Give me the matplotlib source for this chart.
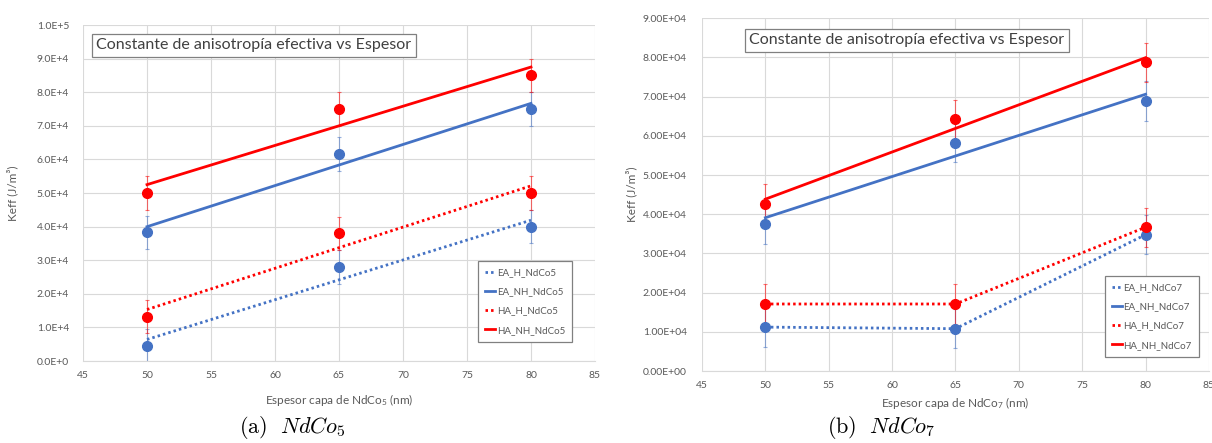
import numpy as np
import matplotlib.pyplot as plt
from matplotlib.ticker import FuncFormatter, MultipleLocator

plt.rcParams['font.family'] = ['Lato', 'DejaVu Sans']
plt.rcParams['mathtext.fontset'] = 'custom'
plt.rcParams['mathtext.rm'] = 'Lato'
plt.rcParams['mathtext.it'] = 'Lato:italic'

# thickness of the NdCo layer (nm)
espesor = [50, 65, 80]

# NdCo5 panel (J/m3)
ea_h_5 = [4.5e3, 2.8e4, 4.0e4]
ea_nh_5 = [3.83e4, 6.17e4, 7.5e4]
ha_h_5 = [1.32e4, 3.8e4, 5.0e4]
ha_nh_5 = [5.0e4, 7.5e4, 8.5e4]
err_5 = [5e3, 5e3, 5e3]

# NdCo7 panel (J/m3)
ea_h_7 = [1.12e4, 1.08e4, 3.48e4]
ea_nh_7 = [3.74e4, 5.83e4, 6.89e4]
ha_h_7 = [1.71e4, 1.71e4, 3.67e4]
ha_nh_7 = [4.27e4, 6.42e4, 7.88e4]
err_7 = [5e3, 5e3, 5e3]

titulo = 'Constante de anisotropía efectiva vs Espesor'

BLUE = '#4472C4'
RED = '#FF0000'
GRAY = '#595959'
DOTS = (0, (0.9, 1.1))


def serie(ax, x, y, err, color, ls, label, fit):
    ax.errorbar(x, y, yerr=err, fmt='none', ecolor=color, elinewidth=0.8,
                capsize=1.5, capthick=0.8, alpha=0.55, zorder=2)
    ax.plot(x, y, 'o', color=color, ms=7, zorder=4)
    x = np.array(x, dtype=float)
    if fit:
        k, b = np.polyfit(x, y, 1)
        xx = np.array([x[0], x[-1]])
        ax.plot(xx, k * xx + b, color=color, ls=ls, lw=2.0, label=label, zorder=3)
    else:
        ax.plot(x, y, color=color, ls=ls, lw=2.0, label=label, zorder=3)


def estilo(ax, ymax, fmt, pad_y):
    ax.set_xlim(45, 85)
    ax.set_ylim(0, ymax)
    ax.xaxis.set_major_locator(MultipleLocator(5))
    ax.yaxis.set_major_locator(MultipleLocator(1e4))
    ax.yaxis.set_major_formatter(FuncFormatter(fmt))
    ax.grid(True, color='#D9D9D9', lw=0.8)
    ax.set_axisbelow(True)
    for s in ['top', 'right', 'left']:
        ax.spines[s].set_visible(False)
    ax.spines['bottom'].set_color('#D9D9D9')
    ax.tick_params(length=0, labelsize=7.5, labelcolor=GRAY)
    ax.tick_params(axis='y', pad=pad_y)
    ax.tick_params(axis='x', pad=7)


def fmt5(v, pos):
    if v <= 0:
        return '0.0E+0'
    e = int(np.floor(np.log10(v) + 1e-9))
    return f'{v / 10**e:.1f}E+{e}'


def fmt7(v, pos):
    return f'{max(v, 0):.2E}'


fig = plt.figure(figsize=(12.12, 4.43), dpi=100)
ax1 = fig.add_axes([0.0685, 0.185, 0.4224, 0.7585])
ax2 = fig.add_axes([0.5792, 0.1625, 0.4183, 0.7962])

# (a) NdCo5 - all linear trendlines
serie(ax1, espesor, ea_h_5, err_5, BLUE, DOTS, 'EA_H_NdCo5', True)
serie(ax1, espesor, ea_nh_5, err_5, BLUE, '-', 'EA_NH_NdCo5', True)
serie(ax1, espesor, ha_h_5, err_5, RED, DOTS, 'HA_H_NdCo5', True)
serie(ax1, espesor, ha_nh_5, err_5, RED, '-', 'HA_NH_NdCo5', True)
estilo(ax1, 1e5, fmt5, 10)
ax1.set_xlabel(r'Espesor capa de NdCo$_5$ (nm)', fontsize=8.5, color=GRAY)
ax1.set_ylabel('Keff (J/m³)', fontsize=8.5, color=GRAY)
ax1.xaxis.set_label_coords(0.5, -0.092)
ax1.yaxis.set_label_coords(-0.127, 0.5)

# (b) NdCo7 - H series joined, NH series linear trendlines
serie(ax2, espesor, ea_h_7, err_7, BLUE, DOTS, 'EA_H_NdCo7', False)
serie(ax2, espesor, ea_nh_7, err_7, BLUE, '-', 'EA_NH_NdCo7', True)
serie(ax2, espesor, ha_h_7, err_7, RED, DOTS, 'HA_H_NdCo7', False)
serie(ax2, espesor, ha_nh_7, err_7, RED, '-', 'HA_NH_NdCo7', True)
estilo(ax2, 9e4, fmt7, 11)
ax2.set_xlabel(r'Espesor capa de NdCo$_7$ (nm)', fontsize=8.5, color=GRAY)
ax2.set_ylabel('Keff (J/m³)', fontsize=8.5, color=GRAY)
ax2.xaxis.set_label_coords(0.5, -0.068)
ax2.yaxis.set_label_coords(-0.128, 0.5)

for ax, lx, ly, bb in [(ax1, 0.334, 0.940, (0.965, 0.042)),
                       (ax2, 0.404, 0.938, (0.990, 0.026))]:
    ax.text(lx, ly, titulo, transform=ax.transAxes, ha='center', va='center',
            fontsize=11.5, color='#404040',
            bbox=dict(boxstyle='square,pad=0.28', fc='white', ec='#808080', lw=0.9))
    leg = ax.legend(loc='lower right', bbox_to_anchor=bb, fontsize=7,
                    handlelength=1.0, handletextpad=0.2, labelspacing=1.05,
                    borderpad=0.75, fancybox=False, framealpha=1,
                    edgecolor='#808080')
    leg.get_frame().set_linewidth(0.9)
    for t in leg.get_texts():
        t.set_color(GRAY)

fig.text(0.241, 0.036, r'$\mathrm{(a)}\ \ NdCo_5$', fontsize=16,
         math_fontfamily='cm', ha='center', va='center')
fig.text(0.727, 0.036, r'$\mathrm{(b)}\ \ NdCo_7$', fontsize=16,
         math_fontfamily='cm', ha='center', va='center')

fig.savefig('out.png', dpi=100)
